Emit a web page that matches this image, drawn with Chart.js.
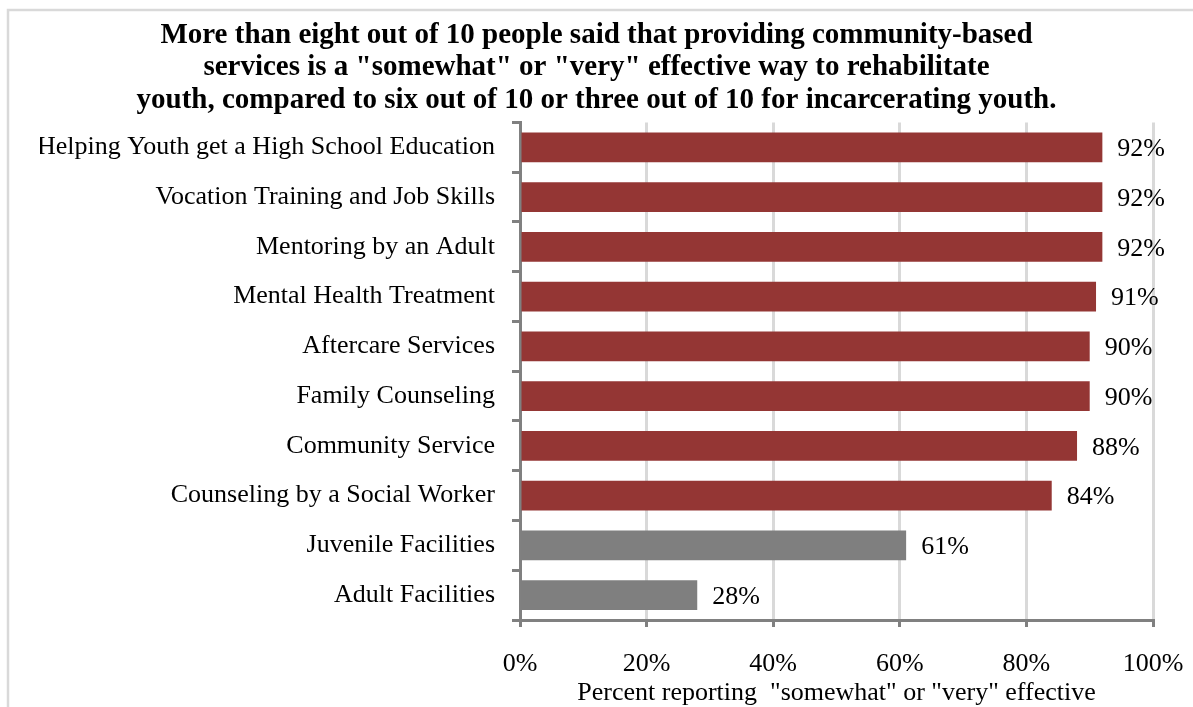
<!DOCTYPE html>
<html>
<head>
<meta charset="utf-8">
<script src="https://cdn.jsdelivr.net/npm/chart.js@4.4.1/dist/chart.umd.min.js"></script>
<style>
  html, body { margin: 0; padding: 0; background: #fff; }
  #wrap { width: 1193px; height: 707px; position: relative; }
</style>
</head>
<body>
<div id="wrap"><canvas id="chart"></canvas></div>
<script>
const titleLines = [
    'More than eight out of 10 people said that providing community-based',
    'services is a "somewhat" or "very" effective way to rehabilitate',
    'youth, compared to six out of 10 or three out of 10 for incarcerating youth.'
];
const categories = [
    'Helping Youth get a High School Education',
    'Vocation Training and Job Skills',
    'Mentoring by an Adult',
    'Mental Health Treatment',
    'Aftercare Services',
    'Family Counseling',
    'Community Service',
    'Counseling by a Social Worker',
    'Juvenile Facilities',
    'Adult Facilities'
];
const percents = [92, 92, 92, 91, 90, 90, 88, 84, 61, 28];
const groups = ['community', 'community', 'community', 'community', 'community',
                'community', 'community', 'community', 'incarceration', 'incarceration'];
const xTicks = [0, 20, 40, 60, 80, 100];
const xTitle = 'Percent reporting  "somewhat" or "very" effective';

const groupColor = { community: '#943634', incarceration: '#7f7f7f' };
const FONT = '"Liberation Serif", "Times New Roman", serif';

// light frame (only top/left edges are inside the picture)
const framePlugin = {
    id: 'frame',
    beforeDraw(chart) {
        const ctx = chart.ctx;
        ctx.save();
        ctx.fillStyle = '#fff';
        ctx.fillRect(0, 0, chart.width, chart.height);
        ctx.strokeStyle = '#d9d9d9';
        ctx.lineWidth = 2.5;
        ctx.beginPath();
        ctx.moveTo(8, chart.height + 5);
        ctx.lineTo(8, 10);
        ctx.lineTo(chart.width + 5, 10);
        ctx.stroke();
        ctx.restore();
    }
};

// percent labels at the end of each bar
const valueLabels = {
    id: 'valueLabels',
    afterDatasetsDraw(chart) {
        const ctx = chart.ctx;
        const meta = chart.getDatasetMeta(0);
        ctx.save();
        ctx.font = '26px ' + FONT;
        ctx.fillStyle = '#000';
        ctx.textAlign = 'left';
        ctx.textBaseline = 'middle';
        meta.data.forEach((bar, i) => {
            ctx.fillText(percents[i] + '%', bar.x + 15, bar.y + 2);
        });
        ctx.restore();
    }
};

new Chart(document.getElementById('chart'), {
    type: 'bar',
    data: {
        labels: categories,
        datasets: [{
            data: percents,
            backgroundColor: groups.map(g => groupColor[g]),
            barPercentage: 0.6,
            categoryPercentage: 1
        }]
    },
    options: {
        indexAxis: 'y',
        responsive: true,
        maintainAspectRatio: false,
        animation: false,
        layout: { padding: { left: 40, right: 40, top: 0, bottom: 0 } },
        scales: {
            x: {
                min: 0,
                max: 100,
                afterBuildTicks: (s) => { s.ticks = xTicks.map(v => ({ value: v })); },
                afterFit: (s) => {
                    s.height = 87;
                    s.paddingLeft = 0;
                    s.paddingRight = 0;
                },
                ticks: {
                    callback: (v) => v + '%',
                    color: '#000',
                    font: { family: FONT, size: 26 },
                    padding: 22,
                    maxRotation: 0
                },
                grid: {
                    color: '#d9d9d9',
                    lineWidth: 3,
                    tickColor: '#808080',
                    tickLength: 7
                },
                border: { color: '#808080', width: 3 },
                title: {
                    display: true,
                    text: xTitle,
                    color: '#000',
                    font: { family: FONT, size: 26, lineHeight: 1 },
                    padding: { top: 0, bottom: 1 }
                }
            },
            y: {
                afterFit: (s) => { s.width = 480; },
                ticks: {
                    color: '#000',
                    font: { family: FONT, size: 26 },
                    padding: 17
                },
                grid: {
                    drawOnChartArea: false,
                    color: '#808080',
                    lineWidth: 3,
                    tickLength: 8,
                    offset: true
                },
                border: { color: '#808080', width: 3 }
            }
        },
        plugins: {
            legend: { display: false },
            tooltip: { enabled: false },
            title: {
                display: true,
                text: titleLines,
                color: '#000',
                font: { family: FONT, size: 29, weight: 'bold', lineHeight: 1.12 },
                padding: { top: 19, bottom: 6 }
            }
        }
    },
    plugins: [framePlugin, valueLabels]
});
</script>
</body>
</html>
